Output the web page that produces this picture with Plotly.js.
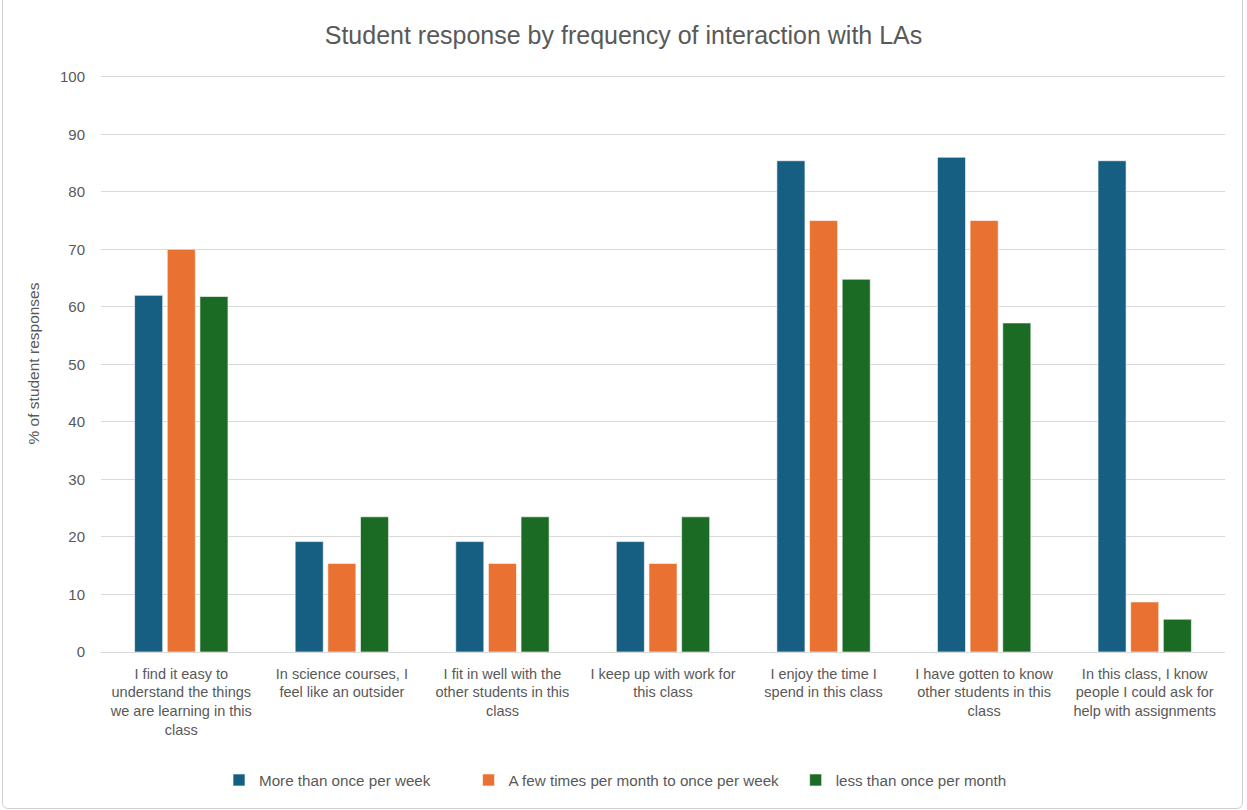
<!DOCTYPE html>
<html>
<head>
<meta charset="utf-8">
<script src="https://cdn.plot.ly/plotly-3.0.1.min.js"></script>
<style>
  html, body { margin: 0; padding: 0; background: #fff; }
  #chart { width: 1247px; height: 810px; }
  #frame { position: absolute; left: 2px; top: -6px; width: 1239px; height: 813px; border: 1px solid #d0d0d0; border-radius: 6px; pointer-events: none; }
</style>
</head>
<body>
<div id="chart"></div>
<div id="frame"></div>
<script>
const categories = [
  "I find it easy to<br>understand the things<br>we are learning in this<br>class",
  "In science courses, I<br>feel like an outsider",
  "I fit in well with the<br>other students in this<br>class",
  "I keep up with work for<br>this class",
  "I enjoy the time I<br>spend in this class",
  "I have gotten to know<br>other students in this<br>class",
  "In this class, I know<br>people I could ask for<br>help with assignments"
];
const seriesNames = ["More than once per week", "A few times per month to once per week", "less than once per month"];
const moreThanWeekly = [62.0, 19.2, 19.2, 19.2, 85.4, 86.0, 85.4];
const fewTimesMonthly = [70.0, 15.4, 15.4, 15.4, 75.0, 75.0, 8.7];
const lessThanMonthly = [61.8, 23.5, 23.5, 23.5, 64.8, 57.2, 5.7];
const colors = ["#175f82", "#e97132", "#1b6b25"];
const yTicks = [0, 10, 20, 30, 40, 50, 60, 70, 80, 90, 100];

const values = [moreThanWeekly, fewTimesMonthly, lessThanMonthly];
const legendIds = ["legend", "legend2", "legend3"];
const legendX = [0.105, 0.327, 0.618];
const traces = values.map((v, i) => ({
  type: "bar",
  name: seriesNames[i],
  x: categories,
  y: v,
  legend: legendIds[i],
  marker: { color: colors[i], line: { color: "rgba(255,255,255,0.6)", width: 1 } },
  hoverinfo: "y+name"
}));

const font = "'Liberation Sans', Arial, sans-serif";
const legendStyle = (x) => ({
  orientation: "h",
  x: x, xanchor: "left",
  y: -0.222, yanchor: "middle",
  font: { family: font, size: 15.2, color: "#595959" },
  itemwidth: 30,
  bgcolor: "rgba(0,0,0,0)"
});

const layout = {
  width: 1247,
  height: 810,
  margin: { l: 101, r: 22, t: 75, b: 158 },
  paper_bgcolor: "#ffffff",
  plot_bgcolor: "#ffffff",
  font: { family: font, color: "#595959", size: 14 },
  title: {
    text: "Student response by frequency of interaction with LAs",
    font: { family: font, size: 25, color: "#595959" },
    x: 0.5, xanchor: "center", y: 0.957, yanchor: "middle"
  },
  barmode: "group",
  bargap: 0.39,
  bargroupgap: 0.14,
  xaxis: {
    type: "category",
    tickfont: { family: font, size: 14.5, color: "#595959" },
    showgrid: false,
    showline: false,
    ticks: "",
    tickangle: 0,
    ticklabelstandoff: 11,
    automargin: false
  },
  yaxis: {
    range: [0, 100.3],
    tickvals: yTicks,
    ticktext: yTicks.map(String),
    showgrid: true,
    gridcolor: "#d9d9d9",
    gridwidth: 1,
    zeroline: true,
    zerolinecolor: "#d9d9d9",
    zerolinewidth: 1,
    showline: false,
    ticks: "",
    ticklabelstandoff: 15,
    tickfont: { family: font, size: 15, color: "#595959" },
    title: { text: "% of student responses", font: { family: font, size: 15.5, color: "#595959" }, standoff: 16 },
    automargin: false
  },
  legend: legendStyle(legendX[0]),
  legend2: legendStyle(legendX[1]),
  legend3: legendStyle(legendX[2]),
  showlegend: true
};

Plotly.newPlot("chart", traces, layout, { displayModeBar: false, staticPlot: true });
</script>
</body>
</html>
